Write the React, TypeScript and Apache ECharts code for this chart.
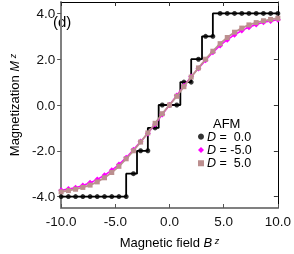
import React, { useEffect, useRef } from "react";
import * as echarts from "echarts";

const fieldGrid = [-10, -9.33, -8.67, -8, -7.33, -6.67, -6, -5.33, -4.67, -4, -3.33, -2.67, -2, -1.33, -0.67, 0, 0.67, 1.33, 2, 2.67, 3.33, 4, 4.67, 5.33, 6, 6.67, 7.33, 8, 8.67, 9.33, 10];
const magD0 = [-4, -4, -4, -4, -4, -4, -4, -4, -4, -4, -3, -2, -2, -1, 0, 0, 0, 1, 1, 2, 3, 3, 4, 4, 4, 4, 4, 4, 4, 4, 4];
const magDm5 = [-3.72, -3.67, -3.61, -3.52, -3.4, -3.25, -3.07, -2.85, -2.6, -2.3, -1.95, -1.6, -1.24, -0.84, -0.42, 0, 0.42, 0.84, 1.24, 1.6, 1.95, 2.3, 2.6, 2.85, 3.07, 3.25, 3.4, 3.52, 3.61, 3.67, 3.72];
const magDp5 = [-3.79, -3.74, -3.68, -3.6, -3.5, -3.36, -3.18, -2.95, -2.68, -2.35, -2.0, -1.62, -1.22, -0.8, -0.38, 0, 0.38, 0.8, 1.22, 1.62, 2.0, 2.35, 2.68, 2.95, 3.18, 3.36, 3.5, 3.6, 3.68, 3.74, 3.79];
// exact step curve for D = 0 (field where each plateau begins, magnetization)
const stepField = [-10, -4, -3, -2, -1, 1, 2, 3, 4, 10];
const stepMag = [-4, -3, -2, -1, 0, 1, 2, 3, 4, 4];
const xTicks = [-10, -5, 0, 5, 10];
const yTicks = [-4, -2, 0, 2, 4];
const legendNames = ["0.0", "-5.0", "5.0"];

const FONT = "'Liberation Sans', Arial, Helvetica, sans-serif";

export default function App() {
  const ref = useRef<HTMLDivElement>(null);
  useEffect(() => {
    if (!ref.current) return;
    const chart = echarts.init(ref.current, null, { renderer: "svg" });
    const pair = (ys: number[]) => fieldGrid.map((x, i) => [x, ys[i]]);
    const richName = {
      a: { fontSize: 13, fontFamily: FONT, color: "#000" },
      i: { fontSize: 13, fontFamily: FONT, fontStyle: "italic", color: "#000" },
      s: { fontSize: 9, fontFamily: FONT, fontStyle: "italic", color: "#000", verticalAlign: "top" },
    };
    chart.setOption({
      animation: false,
      textStyle: { fontFamily: FONT },
      grid: { left: 43, right: 12, top: 2, bottom: 38 },
      xAxis: [
        {
          type: "value",
          min: -10,
          max: 10,
          interval: 5,
          position: "bottom",
          name: "{a|Magnetic field }{i|B}{s| z}",
          nameLocation: "middle",
          nameGap: 28,
          nameTextStyle: { rich: richName },
          axisLine: { onZero: false, lineStyle: { color: "#808080", width: 2 } },
          axisTick: { inside: true, length: 4, lineStyle: { color: "#555" }, customValues: xTicks },
          axisLabel: { customValues: xTicks, formatter: (v: number) => v.toFixed(1), fontSize: 13.5, color: "#111", margin: 6, fontFamily: FONT },
          splitLine: { show: false },
        },
        {
          type: "value",
          min: -10,
          max: 10,
          interval: 5,
          position: "top",
          axisLine: { onZero: false, lineStyle: { color: "#000", width: 1 } },
          axisTick: { inside: true, length: 4, lineStyle: { color: "#333" } },
          axisLabel: { show: false },
          splitLine: { show: false },
        },
      ],
      yAxis: [
        {
          type: "value",
          min: -4.5,
          max: 4.5,
          position: "left",
          name: "{a|Magnetization }{i|M}{s| z}",
          nameLocation: "middle",
          nameGap: 33,
          nameRotate: 90,
          nameTextStyle: { rich: richName },
          axisLine: { onZero: false, lineStyle: { color: "#808080", width: 2 } },
          axisTick: { inside: false, length: 4, lineStyle: { color: "#555" }, customValues: yTicks },
          axisLabel: { customValues: yTicks, formatter: (v: number) => v.toFixed(1), fontSize: 13.5, color: "#111", margin: 6, fontFamily: FONT },
          splitLine: { show: false },
        },
        {
          type: "value",
          min: -4.5,
          max: 4.5,
          position: "right",
          axisLine: { onZero: false, lineStyle: { color: "#000", width: 1 } },
          axisTick: { inside: true, length: 4, lineStyle: { color: "#333" }, customValues: yTicks },
          axisLabel: { show: false },
          splitLine: { show: false },
        },
      ],
      legend: {
        orient: "vertical",
        left: 198,
        top: 130,
        itemWidth: 6,
        itemHeight: 6,
        itemGap: 0,
        padding: 0,
        data: [
          { name: legendNames[0], icon: "circle" },
          { name: legendNames[1], icon: "diamond" },
          { name: legendNames[2], icon: "rect" },
        ],
        formatter: (n: string) => `{i|D}{a| =${n.startsWith("-") ? " " : "  "}${n}}`,
        textStyle: {
          fontSize: 12.5,
          lineHeight: 13.3,
          padding: [0, 0, 0, -2],
          rich: {
            i: { fontSize: 12.5, lineHeight: 13.3, fontStyle: "italic", fontFamily: FONT, color: "#000" },
            a: { fontSize: 12.5, lineHeight: 13.3, fontFamily: FONT, color: "#000" },
          },
        },
      },
      graphic: [
        { type: "text", left: 53, top: 14, style: { text: "(d)", fontSize: 15, fontFamily: FONT, fill: "#000" } },
        { type: "text", left: 213, top: 117, style: { text: "AFM", fontSize: 13, fontFamily: FONT, fill: "#000" } },
      ],
      series: [
        {
          type: "line",
          step: "end",
          data: stepField.map((x, i) => [x, stepMag[i]]),
          showSymbol: false,
          symbol: "none",
          lineStyle: { color: "#000", width: 1.8 },
          silent: true,
          z: 2,
        },
        {
          name: legendNames[0],
          type: "scatter",
          data: pair(magD0),
          symbol: "circle",
          symbolSize: 5,
          itemStyle: { color: "#000" },
          z: 3,
        },
        {
          name: legendNames[1],
          type: "line",
          data: pair(magDm5),
          symbol: "diamond",
          symbolSize: 6,
          lineStyle: { color: "#ff00ff", width: 1.5 },
          itemStyle: { color: "#ff00ff" },
          z: 4,
        },
        {
          name: legendNames[2],
          type: "line",
          data: pair(magDp5),
          symbol: "rect",
          symbolSize: 5,
          lineStyle: { color: "#bc8f8f", width: 1.8 },
          itemStyle: { color: "#bc8f8f" },
          z: 5,
        },
      ],
    });
    return () => chart.dispose();
  }, []);
  return <div ref={ref} style={{ position: "fixed", left: 0, top: 0, width: 294, height: 254 }} />;
}
